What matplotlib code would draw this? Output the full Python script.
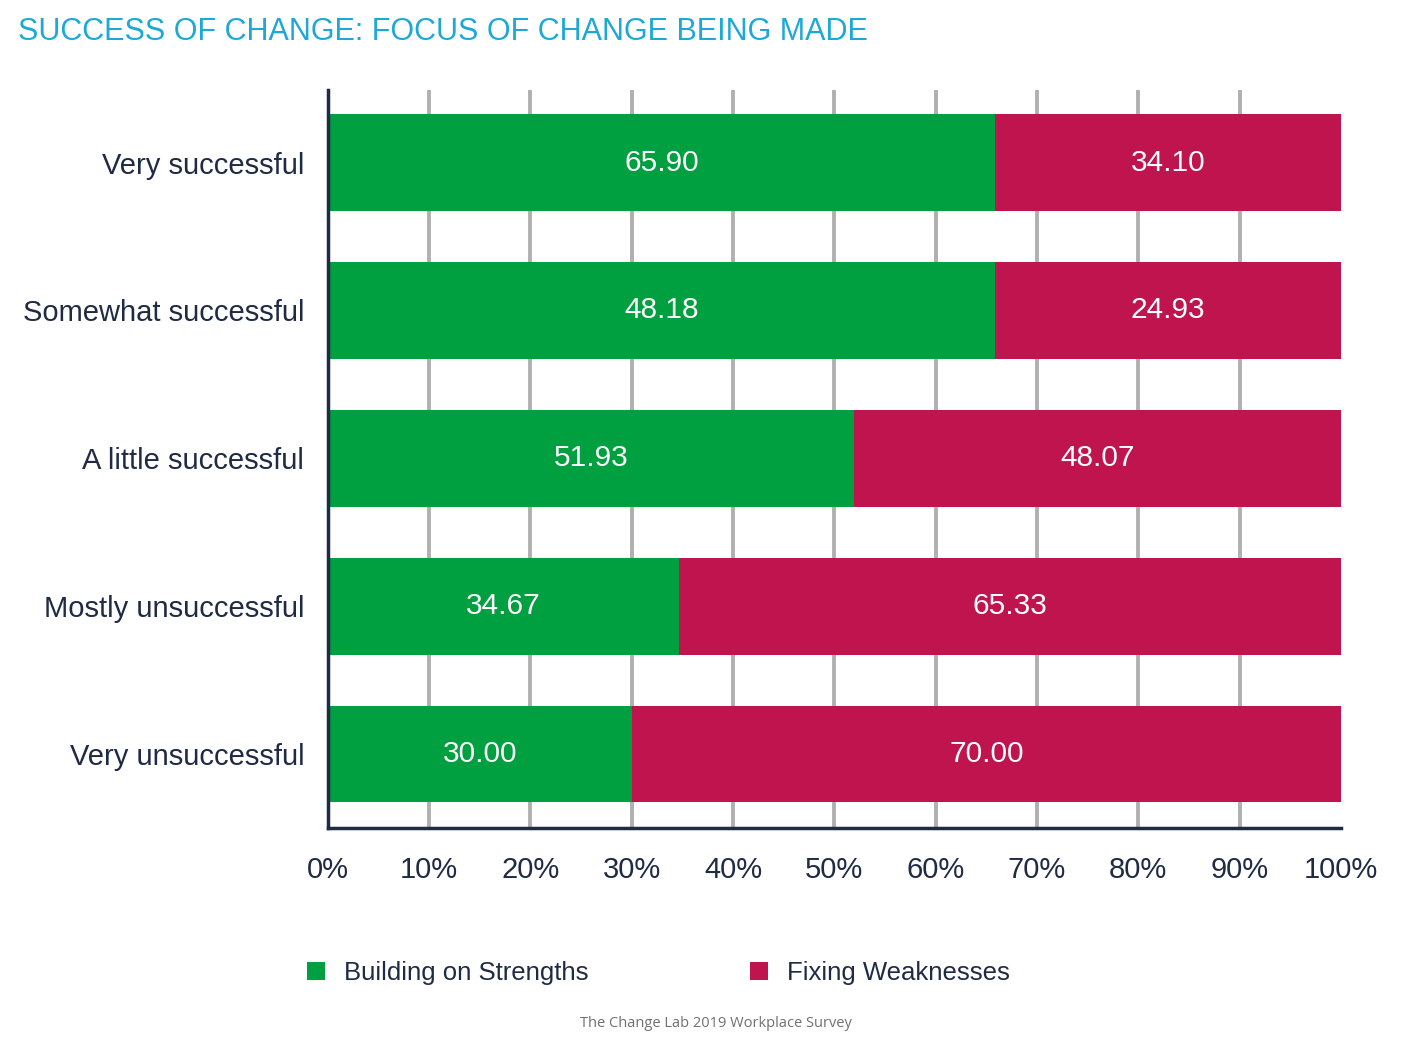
import matplotlib.pyplot as plt
import numpy as np

plt.rcParams['font.family'] = ['Liberation Sans', 'DejaVu Sans']

categories = ["Very successful", "Somewhat successful", "A little successful",
              "Mostly unsuccessful", "Very unsuccessful"]
strengths = [65.90, 48.18, 51.93, 34.67, 30.00]
weaknesses = [34.10, 24.93, 48.07, 65.33, 70.00]
series_names = ["Building on Strengths", "Fixing Weaknesses"]
green = "#00A040"
red = "#C0144F"
navy = "#1F2A44"

s = np.array(strengths)
w = np.array(weaknesses)
tot = s + w
s_pct = s / tot * 100
w_pct = w / tot * 100

fig = plt.figure(figsize=(14.07, 10.6), dpi=100)
ax = fig.add_axes([0.233, 0.219, 0.72, 0.696])

y = np.arange(len(categories))
b1 = ax.barh(y, s_pct, height=0.655, color=green, label=series_names[0], zorder=3)
b2 = ax.barh(y, w_pct, left=s_pct, height=0.655, color=red, label=series_names[1], zorder=3)

for i in range(len(categories)):
    ax.text(s_pct[i] / 2, y[i], "%.2f" % strengths[i], ha='center', va='center',
            color='white', fontsize=21.5, zorder=4)
    ax.text(s_pct[i] + w_pct[i] / 2, y[i], "%.2f" % weaknesses[i], ha='center', va='center',
            color='white', fontsize=21.5, zorder=4)

ax.set_xlim(0, 100)
ax.set_ylim(4.5, -0.49)
ax.set_xticks(np.arange(0, 101, 10))
ax.set_xticklabels(["%d%%" % v for v in range(0, 101, 10)])
ax.set_yticks(y)
ax.set_yticklabels(categories)
ax.tick_params(axis='both', length=0, labelsize=21, colors=navy)
ax.tick_params(axis='x', pad=20)
ax.tick_params(axis='y', pad=17)

# vertical grid lines (none at 0% and 100%)
for gx in range(10, 100, 10):
    ax.axvline(gx, color='#b0b0b0', linewidth=2.8, zorder=0)

for sp in ['top', 'right']:
    ax.spines[sp].set_visible(False)
for sp in ['left', 'bottom']:
    ax.spines[sp].set_color(navy)
    ax.spines[sp].set_linewidth(2.5)
    ax.spines[sp].set_zorder(5)

fig.text(0.013, 0.970, "SUCCESS OF CHANGE: FOCUS OF CHANGE BEING MADE", color='#1EA8D8',
         fontsize=22, ha='left', va='center')

leg = fig.legend(handles=[b1, b2], loc='center', bbox_to_anchor=(0.468, 0.082), ncol=2,
                 frameon=False, fontsize=18.5, handlelength=0.7, handleheight=0.7,
                 columnspacing=6.3, handletextpad=0.75)
for t in leg.get_texts():
    t.set_color(navy)

fig.text(0.509, 0.034, "The Change Lab 2019 Workplace Survey", color='#707070',
         fontsize=10.5, ha='center', va='center', family=['Open Sans', 'DejaVu Sans'])

fig.savefig("out.png", dpi=100)
